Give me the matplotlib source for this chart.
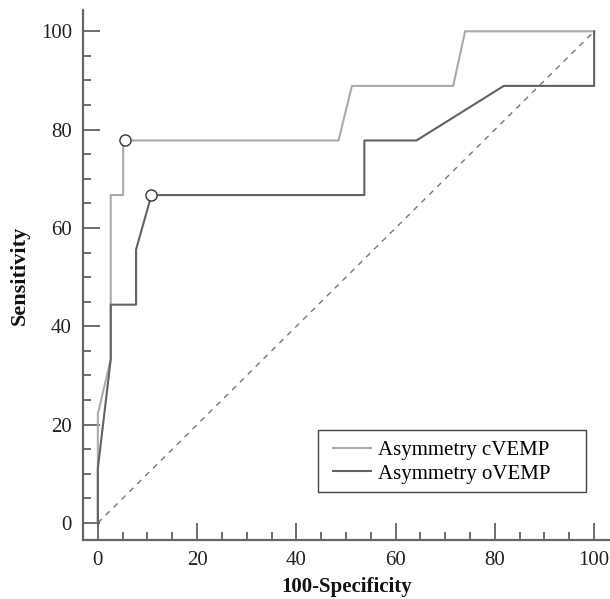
import matplotlib
matplotlib.use("Agg")
import matplotlib.pyplot as plt
from matplotlib.ticker import MultipleLocator
from matplotlib.patches import Rectangle

plt.rcParams['font.family'] = ['Liberation Serif', 'DejaVu Serif']

# data
c_x = [0, 0, 2.6, 2.6, 5.1, 5.1, 48.5, 51.2, 71.6, 74.0, 100]
c_y = [0, 22.2, 33.3, 66.7, 66.7, 77.8, 77.8, 88.9, 88.9, 100, 100]
o_x = [0, 0, 2.6, 2.6, 7.7, 7.7, 10.8, 53.7, 53.7, 64.2, 81.8, 100, 100]
o_y = [0, 11.1, 33.3, 44.4, 44.4, 55.6, 66.7, 66.7, 77.8, 77.8, 88.9, 88.9, 100]
cut_x = [5.5, 10.8]
cut_y = [77.8, 66.7]
series_names = ["Asymmetry cVEMP", "Asymmetry oVEMP"]
series_colors = ["#ababab", "#626262"]
ref_x = [0, 100]
ref_y = [0, 100]

fig = plt.figure(figsize=(6.10, 5.99), dpi=100)
ax = fig.add_axes([0.136, 0.0985, 0.864, 0.8845])

ax.plot(ref_x, ref_y, color="#777777", lw=1.0, dashes=(4, 4))
ax.plot(c_x, c_y, color=series_colors[0], lw=1.5, label=series_names[0])
ax.plot(o_x, o_y, color=series_colors[1], lw=1.5, label=series_names[1])
ax.plot(cut_x, cut_y, 'o', ms=8, mfc='white', mec='#333333', mew=1.0, zorder=5)

ax.set_xlim(-3.0, 103.2)
ax.set_ylim(-3.46, 104.3)

for s in ['top', 'right']:
    ax.spines[s].set_visible(False)
for s in ['left', 'bottom']:
    ax.spines[s].set_color('#666666')
    ax.spines[s].set_linewidth(1.6)

ax.xaxis.set_major_locator(MultipleLocator(20))
ax.xaxis.set_minor_locator(MultipleLocator(5))
ax.yaxis.set_major_locator(MultipleLocator(20))
ax.yaxis.set_minor_locator(MultipleLocator(5))
ax.tick_params(which='major', direction='in', length=12, width=1.2, color='#555555',
               labelsize=15, labelcolor='#222222', pad=8)
ax.tick_params(which='minor', direction='in', length=6, width=1.2, color='#555555')

ax.set_xlabel("100-Specificity", fontsize=15, fontweight='bold', color='#111111', labelpad=5)
ax.set_ylabel("Sensitivity", fontsize=16, fontweight='bold', color='#111111', labelpad=8)

leg = ax.legend(loc='upper left', bbox_to_anchor=(0.474, 0.188), fontsize=15,
                frameon=False, handlelength=1.85, borderpad=0.0, borderaxespad=0.0,
                labelspacing=0.2, handletextpad=0.3)
ax.add_patch(Rectangle((0.446, 0.0906), 0.508, 0.117, transform=ax.transAxes,
                       fill=False, edgecolor='#444444', lw=1.0, zorder=6))

fig.savefig("out.png", dpi=100)
